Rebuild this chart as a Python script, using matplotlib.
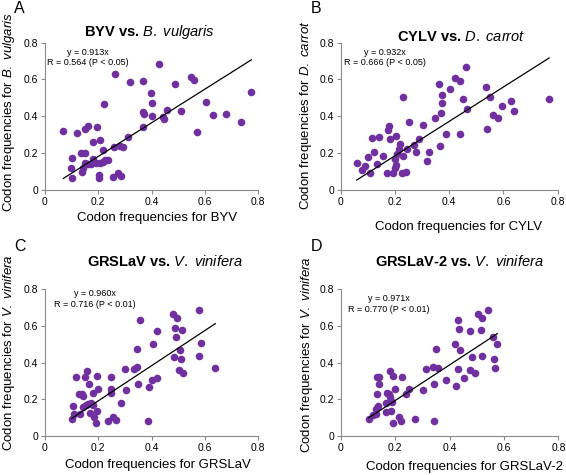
import numpy as np
import matplotlib
matplotlib.use("Agg")
import matplotlib.pyplot as plt

plt.rcParams['font.family'] = ['Liberation Sans', 'DejaVu Sans']
plt.rcParams['mathtext.fontset'] = 'custom'
plt.rcParams['mathtext.rm'] = 'Liberation Sans'
plt.rcParams['mathtext.it'] = 'Liberation Sans:italic'
plt.rcParams['mathtext.bf'] = 'Liberation Sans:bold'

# --- data ---
byv_x = [0.069, 0.121, 0.149, 0.16, 0.196, 0.206, 0.222, 0.264, 0.319, 0.369, 0.396, 0.40,
         0.366, 0.371, 0.366, 0.3125, 0.281, 0.294, 0.259, 0.179, 0.134, 0.15, 0.10, 0.219,
         0.0975, 0.10, 0.141, 0.1375, 0.15, 0.1625, 0.181, 0.171, 0.191, 0.206, 0.216, 0.225,
         0.2375, 0.204, 0.204, 0.256, 0.275, 0.284,
         0.429, 0.489, 0.549, 0.557, 0.40, 0.456, 0.441, 0.447, 0.509, 0.571, 0.604, 0.629,
         0.679, 0.734, 0.774]
byv_y = [0.322, 0.31, 0.33, 0.347, 0.344, 0.274, 0.467, 0.632, 0.587, 0.594, 0.525, 0.47,
         0.426, 0.411, 0.344, 0.286, 0.241, 0.236, 0.236, 0.259, 0.199, 0.199, 0.176, 0.219,
         0.121, 0.067, 0.121, 0.10, 0.145, 0.139, 0.167, 0.139, 0.145, 0.145, 0.150, 0.163,
         0.163, 0.082, 0.067, 0.072, 0.091, 0.076,
         0.686, 0.576, 0.616, 0.597, 0.40, 0.436, 0.398, 0.384, 0.427, 0.315, 0.478, 0.407,
         0.413, 0.371, 0.532]

cylv_x = [0.058, 0.0775, 0.09, 0.101, 0.107, 0.113, 0.121, 0.133, 0.139, 0.156, 0.169, 0.172,
          0.176, 0.181, 0.193, 0.203, 0.20, 0.203, 0.198, 0.207, 0.219, 0.213, 0.225, 0.23,
          0.23, 0.24, 0.244, 0.25, 0.268, 0.277, 0.287, 0.304, 0.318, 0.326, 0.347, 0.363,
          0.367, 0.373, 0.373, 0.369, 0.386, 0.404,
          0.462, 0.42, 0.44, 0.452, 0.464, 0.44, 0.535, 0.549, 0.538, 0.56, 0.579, 0.595,
          0.627, 0.638, 0.769]
cylv_y = [0.149, 0.109, 0.13, 0.179, 0.094, 0.283, 0.205, 0.139, 0.286, 0.187, 0.091, 0.326,
          0.348, 0.277, 0.091, 0.295, 0.168, 0.136, 0.118, 0.196, 0.248, 0.221, 0.091, 0.507,
          0.185, 0.10, 0.225, 0.37, 0.245, 0.205, 0.275, 0.353, 0.158, 0.205, 0.39, 0.574,
          0.241, 0.516, 0.471, 0.417, 0.303, 0.547,
          0.67, 0.608, 0.59, 0.494, 0.442, 0.302, 0.559, 0.503, 0.331, 0.407, 0.389, 0.454,
          0.483, 0.427, 0.492]

grslav_x = [0.101, 0.106, 0.11, 0.131, 0.116, 0.129, 0.1375, 0.144, 0.15, 0.156, 0.166, 0.144,
            0.154, 0.1625, 0.171, 0.181, 0.181, 0.169, 0.184, 0.194, 0.19, 0.20, 0.196, 0.246,
            0.246, 0.2475, 0.2375, 0.254, 0.266, 0.284, 0.301, 0.304, 0.334, 0.346, 0.346,
            0.3475, 0.356, 0.3875, 0.391, 0.4025, 0.406,
            0.421, 0.421, 0.479, 0.495, 0.4875, 0.515, 0.491, 0.506, 0.484, 0.509, 0.504,
            0.519, 0.5775, 0.585, 0.576, 0.639]
grslav_y = [0.093, 0.164, 0.118, 0.118, 0.324, 0.229, 0.229, 0.218, 0.324, 0.356, 0.282, 0.156,
            0.169, 0.175, 0.178, 0.169, 0.236, 0.127, 0.105, 0.138, 0.069, 0.255, 0.327, 0.324,
            0.255, 0.233, 0.082, 0.102, 0.087, 0.178, 0.364, 0.251, 0.364, 0.378, 0.473,
            0.284, 0.633, 0.084, 0.269, 0.305, 0.502,
            0.318, 0.573, 0.666, 0.646, 0.587, 0.578, 0.538, 0.467, 0.429, 0.422, 0.362,
            0.342, 0.689, 0.506, 0.435, 0.373]

grslav2_x = [0.102, 0.119, 0.127, 0.135, 0.132, 0.131, 0.139, 0.138, 0.128, 0.164, 0.166, 0.169,
             0.176, 0.181, 0.181, 0.188, 0.185, 0.193, 0.197, 0.193, 0.215, 0.2215, 0.223, 0.24,
             0.25, 0.271, 0.3015, 0.311, 0.338, 0.342, 0.342, 0.35, 0.357, 0.388,
             0.432, 0.434, 0.42, 0.438, 0.432, 0.422, 0.454, 0.476, 0.503, 0.519, 0.542, 0.515,
             0.483, 0.519, 0.476, 0.493, 0.561, 0.575, 0.562, 0.566]
grslav2_y = [0.093, 0.115, 0.118, 0.164, 0.229, 0.324, 0.324, 0.284, 0.15, 0.133, 0.178, 0.236,
             0.227, 0.215, 0.356, 0.187, 0.138, 0.327, 0.255, 0.069, 0.105, 0.084, 0.32, 0.227,
             0.255, 0.091, 0.251, 0.364, 0.378, 0.084, 0.284, 0.473, 0.369, 0.305,
             0.635, 0.585, 0.504, 0.467, 0.366, 0.271, 0.316, 0.574, 0.666, 0.646, 0.689, 0.578,
             0.429, 0.435, 0.362, 0.342, 0.54, 0.504, 0.422, 0.373]

slopes = [0.913, 0.932, 0.960, 0.971]
r_labels = ["R = 0.564 (P < 0.05)", "R = 0.666 (P < 0.05)",
            "R = 0.716 (P < 0.01)", "R = 0.770 (P < 0.01)"]
titles = [r"BYV vs. $\mathit{B.\ vulgaris}$", r"CYLV vs. $\mathit{D.\ carrot}$",
          r"GRSLaV vs. $\mathit{V.\ vinifera}$", r"GRSLaV-2 vs. $\mathit{V.\ vinifera}$"]
xlabels = ["Codon frequencies for BYV", "Codon frequencies for CYLV",
           "Codon frequencies for GRSLaV", "Codon frequencies for GRSLaV-2"]
ylabels = [r"Codon frequencies for $\mathit{B.\ vulgaris}$",
           r"Codon frequencies for $\mathit{D.\ carrot}$",
           r"Codon frequencies for $\mathit{V.\ vinifera}$",
           r"Codon frequencies for $\mathit{V.\ vinifera}$"]
letters = ["A", "B", "C", "D"]
ticks = [0, 0.2, 0.4, 0.6, 0.8]
tick_labels = ["0", "0.2", "0.4", "0.6", "0.8"]

PURPLE = '#7030a0'
AXIS_GREY = '#8a8a8a'
W, H = 566, 475

def fx(px):
    return px / W

def fy(py):
    return 1 - py / H

fig = plt.figure(figsize=(W / 100, H / 100), dpi=100)

# axes boxes in pixels: left, right, bottom(y=0), top(y=0.8)
boxes = [(45, 258.3, 190, 42.6), (341, 557.6, 190, 42.6),
         (45, 258.3, 436, 289.4), (341, 558.4, 436, 289.4)]
title_pos = [(149, 32), (461, 37), (165, 261), (459, 262)]
letter_pos = [(14, 1), (311, 1), (14, 239), (311, 239)]
xlabel_pos = [(157, 218), (459, 227), (158, 465), (464, 467)]
ylabel_pos = [(9, 112), (306, 115), (9, 353), (307, 355)]
ann_pos = [(0.161, 0.744, 0.69), (0.163, 0.744, 0.69),
           (0.1875, 0.78, 0.72), (0.177, 0.753, 0.693)]

data = [(byv_x, byv_y), (cylv_x, cylv_y), (grslav_x, grslav_y), (grslav2_x, grslav2_y)]

for i, (x, y) in enumerate(data):
    l, r, b, t = boxes[i]
    ax = fig.add_axes([fx(l), fy(b), (r - l) / W, (b - t) / H])
    ax.scatter(x, y, s=30, color=PURPLE, linewidths=0, zorder=2)
    xs = np.array([min(x), max(x)])
    ax.plot(xs, slopes[i] * xs, color='black', lw=0.9, zorder=3)
    ax.set_xlim(0, 0.8)
    ax.set_ylim(0, 0.8)
    ax.set_xticks(ticks)
    ax.set_xticklabels(tick_labels)
    ax.set_yticks(ticks)
    ax.set_yticklabels(tick_labels)
    for side in ['top', 'right']:
        ax.spines[side].set_visible(False)
    for side in ['left', 'bottom']:
        ax.spines[side].set_color(AXIS_GREY)
        ax.spines[side].set_linewidth(0.8)
    ax.tick_params(length=3, width=0.8, color=AXIS_GREY, labelsize=7.5, pad=2)

    ax_, y1, y2 = ann_pos[i]
    ax.text(ax_, y1, "y = %.3fx" % slopes[i], ha='center', va='center', fontsize=6.5)
    ax.text(ax_, y2, r_labels[i], ha='center', va='center', fontsize=6.5)

    fig.text(fx(title_pos[i][0]), fy(title_pos[i][1]), titles[i], ha='center', va='center',
             fontsize=10.5, fontweight='bold')
    fig.text(fx(letter_pos[i][0]), fy(letter_pos[i][1]), letters[i], ha='left', va='top',
             fontsize=11.5)
    fig.text(fx(xlabel_pos[i][0]), fy(xlabel_pos[i][1]), xlabels[i], ha='center', va='center',
             fontsize=9.5)
    fig.text(fx(ylabel_pos[i][0]), fy(ylabel_pos[i][1]), ylabels[i], ha='center', va='center',
             rotation=90, fontsize=9.5)

fig.savefig("out.png", dpi=100)
